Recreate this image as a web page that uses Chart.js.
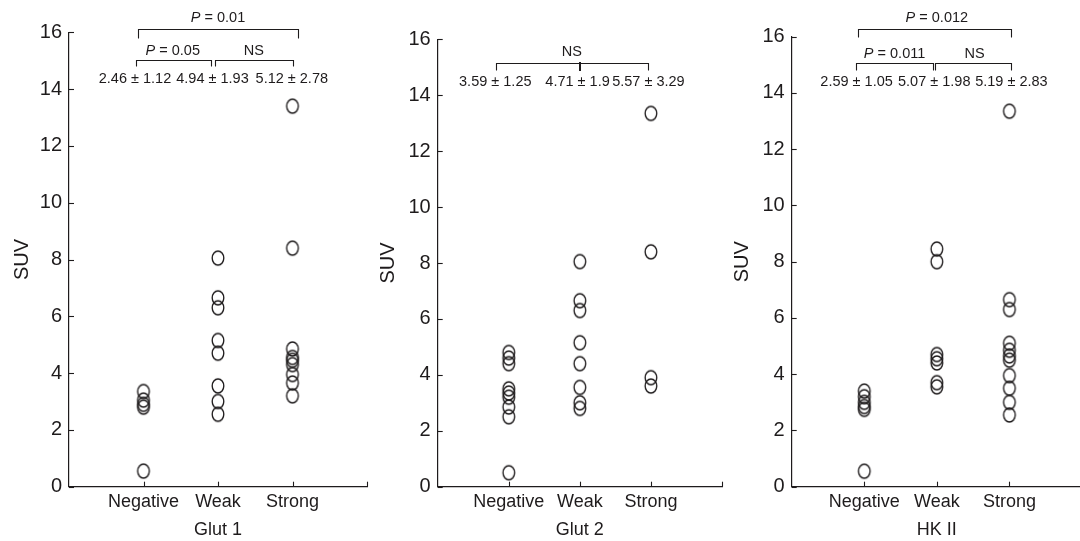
<!DOCTYPE html>
<html>
<head>
<meta charset="utf-8">
<script src="https://cdn.jsdelivr.net/npm/chart.js@4.4.0/dist/chart.umd.min.js"></script>
<style>
html, body { margin: 0; padding: 0; background: #fff; width: 1080px; height: 541px; overflow: hidden; position: relative; }
canvas { position: absolute; top: 0; }
</style>
</head>
<body>
<canvas id="glut1" width="375" height="541" style="left:0px"></canvas>
<canvas id="glut2" width="355" height="541" style="left:375px"></canvas>
<canvas id="hk2" width="360" height="541" style="left:730px"></canvas>
<script>
// categories + tick labels
var categories = ['Negative', 'Weak', 'Strong'];
var yTicks = [0, 2, 4, 6, 8, 10, 12, 14, 16];
var panelTitles = ['Glut 1', 'Glut 2', 'HK II'];

// SUV values
var glut1Negative = [3.35, 3.05, 2.9, 2.8, 0.55];
var glut1Weak = [8.05, 6.65, 6.3, 5.15, 4.7, 3.55, 3.0, 2.55];
var glut1Strong = [13.4, 8.4, 4.85, 4.55, 4.45, 4.3, 3.95, 3.65, 3.2];

var glut2Negative = [4.8, 4.6, 4.4, 3.5, 3.35, 3.2, 2.85, 2.5, 0.5];
var glut2Weak = [8.05, 6.65, 6.3, 5.15, 4.4, 3.55, 3.0, 2.8];
var glut2Strong = [13.35, 8.4, 3.9, 3.6];

var hk2Negative = [3.4, 3.2, 3.0, 2.85, 2.75, 0.55];
var hk2Weak = [8.45, 8.0, 4.7, 4.55, 4.4, 3.7, 3.55];
var hk2Strong = [13.35, 6.65, 6.3, 5.1, 4.85, 4.65, 4.5, 3.95, 3.5, 3.0, 2.55];

// mean ± sd text
var glut1Stats = ['2.46 \u00b1 1.12', '4.94 \u00b1 1.93', '5.12 \u00b1 2.78'];
var glut2Stats = ['3.59 \u00b1 1.25', '4.71 \u00b1 1.9', '5.57 \u00b1 3.29'];
var hk2Stats = ['2.59 \u00b1 1.05', '5.07 \u00b1 1.98', '5.19 \u00b1 2.83'];

var ink = '#1e1b1c';
var fontFam = '"Liberation Sans", Arial, sans-serif';

// open oval marker
function ring() {
  var c = document.createElement('canvas');
  c.width = 16; c.height = 18;
  var g = c.getContext('2d');
  g.strokeStyle = ink;
  g.lineWidth = 1.35;
  g.beginPath();
  g.ellipse(8, 9, 5.8, 7.0, 0, 0, Math.PI * 2);
  g.stroke();
  return c;
}
var marker = ring();

function toPoints(vals, cat) {
  return vals.map(function (v) { return { x: cat, y: v }; });
}

// brackets / labels above the plot
var annotate = {
  id: 'annotate',
  afterDraw: function (chart) {
    var a = chart.options.plugins.annotate;
    var ctx = chart.ctx, xs = chart.scales.x, ys = chart.scales.y;
    ctx.save();
    ctx.strokeStyle = ink;
    ctx.fillStyle = ink;

    // inward ticks
    ctx.lineWidth = 1.1;
    var ax = xs.left, ay = ys.bottom;
    yTicks.forEach(function (t) {
      var py = Math.round(ys.getPixelForValue(t)) + 0.5;
      ctx.beginPath(); ctx.moveTo(ax, py); ctx.lineTo(ax + 5, py); ctx.stroke();
    });
    [1, 2, 3, 4].forEach(function (t) {
      var px = Math.round(xs.getPixelForValue(t)) + 0.5;
      ctx.beginPath(); ctx.moveTo(px, ay); ctx.lineTo(px, ay - 5); ctx.stroke();
    });

    // brackets
    ctx.lineWidth = 1.1;
    a.brackets.forEach(function (b) {
      var x1 = Math.round(xs.getPixelForValue(b.from) + b.dx[0]) + 0.5;
      var x2 = Math.round(xs.getPixelForValue(b.to) + b.dx[1]) + 0.5;
      var y = Math.round(ys.getPixelForValue(b.y)) + 0.5;
      ctx.beginPath();
      ctx.moveTo(x1, y + b.leg); ctx.lineTo(x1, y); ctx.lineTo(x2, y); ctx.lineTo(x2, y + b.leg);
      ctx.stroke();
      if (b.mid) {
        ctx.save();
        ctx.lineWidth = 2;
        var xm = Math.round(xs.getPixelForValue(b.mid));
        ctx.beginPath(); ctx.moveTo(xm, y - 1.5); ctx.lineTo(xm, y + b.leg + 0.5); ctx.stroke();
        ctx.restore();
      }
    });

    // P / NS labels
    ctx.textBaseline = 'middle';
    a.labels.forEach(function (l) {
      var cx = xs.getPixelForValue(l.at) + l.dx;
      var y = ys.getPixelForValue(l.y);
      ctx.font = 'italic 14.5px ' + fontFam;
      var pw = l.p ? ctx.measureText('P').width : 0;
      ctx.font = '14.5px ' + fontFam;
      var rw = ctx.measureText(l.text).width;
      var x0 = cx - (pw + rw) / 2;
      ctx.textAlign = 'left';
      if (l.p) {
        ctx.font = 'italic 14.5px ' + fontFam;
        ctx.fillText('P', x0, y);
        ctx.font = '14.5px ' + fontFam;
      }
      ctx.fillText(l.text, x0 + pw, y);
    });

    // mean ± sd row
    ctx.font = '14.5px ' + fontFam;
    ctx.textAlign = 'center';
    a.stats.forEach(function (s, i) {
      ctx.fillText(s, xs.getPixelForValue(i + 1) + a.statDx[i], ys.getPixelForValue(a.statY));
    });
    ctx.restore();
  }
};

function makePanel(id, title, neg, weak, strong, geo, notes) {
  var ds = [neg, weak, strong].map(function (vals, i) {
    return {
      label: categories[i],
      data: toPoints(vals, i + 1),
      pointStyle: marker,
      pointRadius: 7,
      pointHoverRadius: 7
    };
  });
  return new Chart(document.getElementById(id), {
    type: 'scatter',
    data: { datasets: ds },
    options: {
      responsive: false,
      animation: false,
      devicePixelRatio: 1,
      layout: { padding: { left: 0, right: geo.padRight, top: geo.padTop, bottom: 0 } },
      plugins: {
        legend: { display: false },
        tooltip: { enabled: false },
        annotate: notes
      },
      scales: {
        x: {
          type: 'linear',
          min: 0,
          max: 4,
          afterBuildTicks: function (s) { s.ticks = [1, 2, 3].map(function (v) { return { value: v }; }); },
          afterFit: function (s) { s.height = 541 - 486.7; },
          ticks: {
            autoSkip: false,
            maxRotation: 0,
            padding: 5,
            color: ink,
            font: { family: fontFam, size: 18 },
            callback: function (v) { return categories[v - 1]; }
          },
          grid: { display: true, drawOnChartArea: false, drawTicks: false },
          border: { display: true, color: ink, width: 1.2 },
          title: { display: true, text: title, color: ink, font: { family: fontFam, size: 18 }, padding: { top: 0, bottom: 0 } }
        },
        y: {
          min: 0,
          max: 16,
          afterBuildTicks: function (s) { s.ticks = yTicks.map(function (v) { return { value: v }; }); },
          afterFit: function (s) { s.width = geo.yWidth; },
          ticks: {
            padding: 7,
            color: ink,
            font: { family: fontFam, size: 20 }
          },
          grid: { display: true, drawOnChartArea: false, drawTicks: false },
          border: { display: true, color: ink, width: 1.2 },
          title: { display: true, text: 'SUV', color: ink, font: { family: fontFam, size: 20 }, padding: { top: geo.titlePad, bottom: 0 } }
        }
      }
    },
    plugins: [annotate]
  });
}

makePanel('glut1', panelTitles[0], glut1Negative, glut1Weak, glut1Strong,
  { yWidth: 69, padRight: 4.3, padTop: 32.3, titlePad: 10 },
  {
    brackets: [
      { from: 1, to: 3, y: 16.12, leg: 9, dx: [-6, 5] },
      { from: 1, to: 2, y: 15.02, leg: 6, dx: [-7.6, -6.7] },
      { from: 2, to: 3, y: 15.02, leg: 6, dx: [-3.3, 0] }
    ],
    labels: [
      { text: ' = 0.01', p: true, at: 2, dx: 0, y: 16.49 },
      { text: ' = 0.05', p: true, at: 1.5, dx: -8, y: 15.35 },
      { text: 'NS', p: false, at: 2.5, dx: -1.5, y: 15.35 }
    ],
    stats: glut1Stats, statDx: [-8.5, -5.5, -0.7], statY: 14.36
  });

makePanel('glut2', panelTitles[1], glut2Negative, glut2Weak, glut2Strong,
  { yWidth: 62.7, padRight: 5, padTop: 39.3, titlePad: 1 },
  {
    brackets: [
      { from: 1, to: 3, y: 15.14, leg: 7, dx: [-13, -3], mid: 2 }
    ],
    labels: [
      { text: 'NS', p: false, at: 2, dx: -8, y: 15.56 }
    ],
    stats: glut2Stats, statDx: [-13.5, -2.3, -2.5], statY: 14.49
  });

makePanel('hk2', panelTitles[2], hk2Negative, hk2Weak, hk2Strong,
  { yWidth: 61.7, padRight: 3, padTop: 36.7, titlePad: 0 },
  {
    brackets: [
      { from: 1, to: 3, y: 16.26, leg: 8, dx: [-6, 2] },
      { from: 1, to: 2, y: 15.06, leg: 7, dx: [-8, -4] },
      { from: 2, to: 3, y: 15.06, leg: 7, dx: [-1.6, 2] }
    ],
    labels: [
      { text: ' = 0.012', p: true, at: 2, dx: 0, y: 16.65 },
      { text: ' = 0.011', p: true, at: 1.5, dx: -6, y: 15.38 },
      { text: 'NS', p: false, at: 2.5, dx: 1.5, y: 15.38 }
    ],
    stats: hk2Stats, statDx: [-7.7, -2.6, 2], statY: 14.38
  });
</script>
</body>
</html>
